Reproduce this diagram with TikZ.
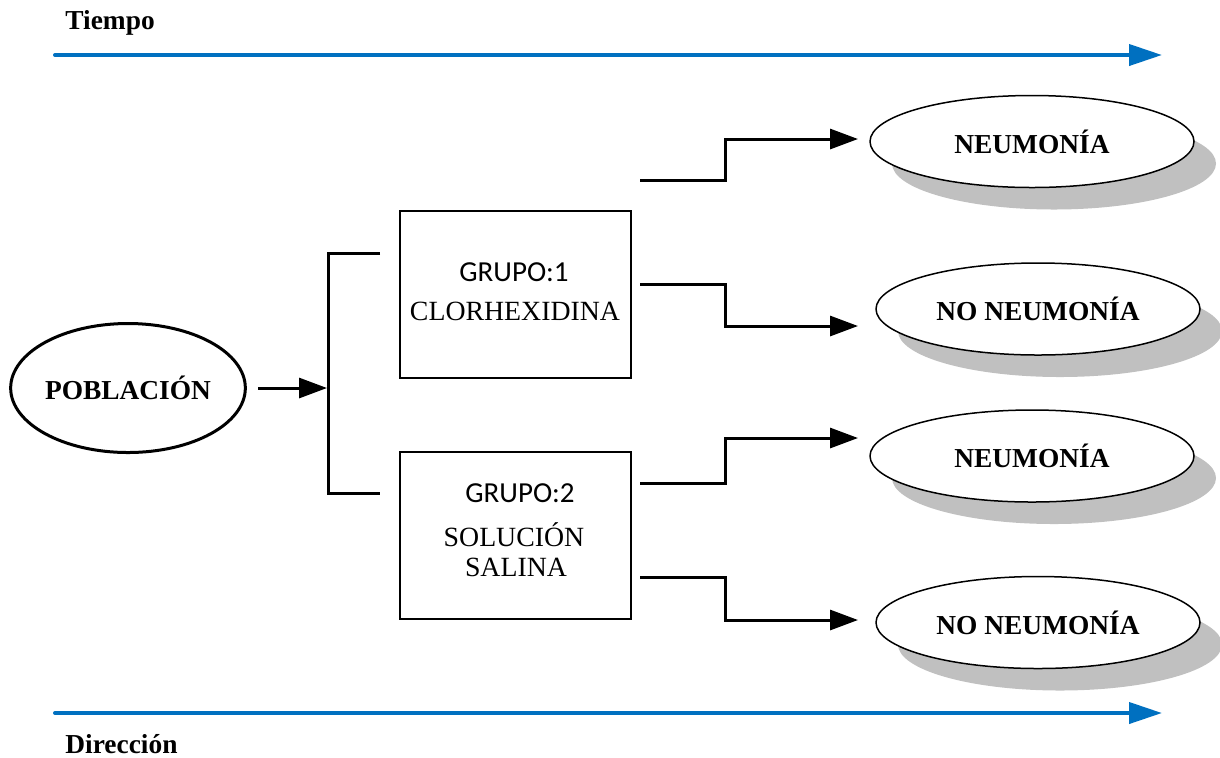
\documentclass[tikz,border=0pt]{standalone}
\usepackage{fontspec}
\setmainfont{Liberation Serif}
\newfontfamily\calib{Carlito}
\usetikzlibrary{arrows.meta,shapes.geometric,shadows}
\definecolor{wblue}{RGB}{0,112,192}
\definecolor{shgray}{RGB}{192,192,192}
\tikzset{
  lbl/.style={font=\fontsize{13.7}{16}\selectfont\bfseries, inner sep=0pt},
  boxtxt/.style={font=\fontsize{13.9}{16}\selectfont, inner sep=0pt},
  grptxt/.style={font=\calib\fontsize{14.5}{16}\selectfont, inner sep=0pt},
  timeline/.style={draw=wblue, line width=2pt, line cap=round, -{Triangle[length=16.5pt,width=10.5pt]}},
  conn/.style={draw=black, line width=1.5pt},
  connarrow/.style={conn, -{Triangle[length=14pt,width=10pt]}},
  grpbox/.style={draw=black, line width=1pt, rectangle, minimum width=115.5pt, minimum height=83.5pt, inner sep=0pt},
  outc/.style={ellipse, draw=black, line width=0.75pt, fill=white, minimum width=162pt, minimum height=46pt, inner sep=0pt,
    general shadow={fill=shgray, shadow xshift=11pt, shadow yshift=-11pt}, lbl},
  pop/.style={ellipse, draw=black, line width=1.5pt, minimum width=115.5pt, minimum height=64.5pt, inner sep=0pt, lbl}
}
\begin{document}
\begin{tikzpicture}[x=0.5pt,y=-0.5pt]
\useasboundingbox (0,0) rectangle (1220,757);
% time axis
\node[lbl, anchor=west] (tiempo) at (65,23) {Tiempo};
\coordinate (t0) at (55,55);
\coordinate (t1) at (1162,55);
\draw[timeline] (t0) -- (t1);
\node[lbl, anchor=west] (direccion) at (65,744) {Dirección};
\coordinate (d0) at (55,713);
\coordinate (d1) at (1162,713);
\draw[timeline] (d0) -- (d1);
% population
\node[pop] (pob) at (128,388) {POBLACIÓN};
\coordinate (pa1) at (258,388);
\coordinate (pa2) at (327,388);
\draw[connarrow] (pa1) -- (pa2);
% bracket
\coordinate (br1) at (380,253);
\coordinate (br2) at (380,493);
\draw[conn] (br1) -- (328,253) -- (328,493) -- (br2);
% boxes
\node[grpbox] (g1) at (515.5,294.5) {};
\node[grptxt] (g1a) at (514,272) {GRUPO:1};
\node[boxtxt] (g1b) at (515,311) {CLORHEXIDINA};
\node[grpbox] (g2) at (515.5,535) {};
\node[grptxt] (g2a) at (520,493) {GRUPO:2};
\node[boxtxt] (g2b) at (514,535) {SOLUCIÓN};
\node[boxtxt] (g2c) at (516,567) {SALINA};
% outcomes
\node[outc] (n1) at (1032,141.5) {NEUMONÍA};
\node[outc] (n2) at (1038,309) {NO NEUMONÍA};
\node[outc] (n3) at (1032,456) {NEUMONÍA};
\node[outc] (n4) at (1038,622.5) {NO NEUMONÍA};
% connectors
\coordinate (s1) at (640,180);
\coordinate (s2) at (640,284);
\coordinate (s3) at (640,483);
\coordinate (s4) at (640,577);
\coordinate (e1) at (858,139);
\coordinate (e2) at (858,326);
\coordinate (e3) at (858,438);
\coordinate (e4) at (858,620);
\draw[connarrow] (s1) -- (725,180) -- (725,139) -- (e1);
\draw[connarrow] (s2) -- (725,284) -- (725,326) -- (e2);
\draw[connarrow] (s3) -- (725,483) -- (725,438) -- (e3);
\draw[connarrow] (s4) -- (725,577) -- (725,620) -- (e4);
\end{tikzpicture}
\end{document}
